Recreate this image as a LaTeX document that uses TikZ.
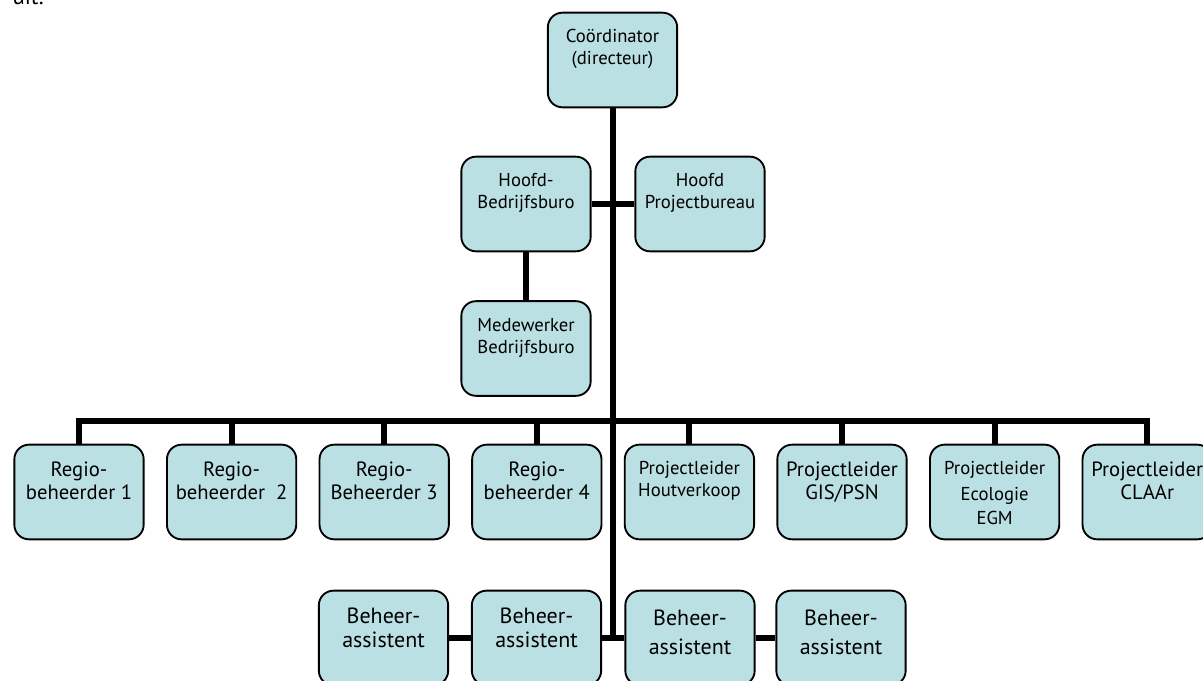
\documentclass[tikz,border=0pt]{standalone}
\usepackage{fontspec}
\setmainfont{PT Sans}
\usepackage{xcolor}
\usepackage{tikz}
\usetikzlibrary{positioning}
\definecolor{unitblue}{RGB}{187,224,227}
\tikzset{
every picture/.style={line width=0.8pt, x=0.75pt, y=-0.75pt},
%%%%%%%%%%  Node styles
unit/.style={rectangle, rounded corners=11pt, draw=black, fill=unitblue,
             line width=1.4pt, minimum width=97pt, minimum height=71pt,
             inner sep=0pt},
unit_text/.style={anchor=north, align=center, inner sep=0pt, yshift=-13pt,
                  font=\fontsize{14}{16.5}\selectfont},
big_text/.style={unit_text, font=\fontsize{15.5}{17.5}\selectfont},
%note that the beheer boxes have the largest text
huge_text/.style={unit_text, font=\fontsize{16.5}{18.5}\selectfont},
%%%% line styles
bar/.style={line width=4.5pt},
}

\begin{document}
\begin{tikzpicture}
\useasboundingbox (0,0) rectangle (1203,681);
\clip (0,0) rectangle (1203,681);
%%cut-off line of text above the chart
\node[anchor=base west, inner sep=0pt, font=\fontsize{17}{20}\selectfont] (uit) at (12,5) {uit.};
%%top of the chart
\node[unit, label={[unit_text]north:{Coördinator\\(directeur)}}] (coord) at (612.5,60) {};
\node[unit, label={[unit_text]north:{Hoofd-\\Bedrijfsburo}}] (hbed) at (526,204) {};
\node[unit, label={[unit_text]north:{Hoofd\\Projectbureau}}] (hproj) at (700,204) {};
\node[unit, label={[unit_text]north:{Medewerker\\Bedrijfsburo}}] (medw) at (526,348.5) {};
%%row of regio and project units
\node[unit, label={[big_text]north:{Regio-\\beheerder 1}}] (reg1) at (79,492) {};
\node[unit, label={[big_text]north:{Regio-\\beheerder~~2}}] (reg2) at (231.6,492) {};
\node[unit, label={[big_text]north:{Regio-\\Beheerder 3}}] (reg3) at (384.2,492) {};
\node[unit, label={[big_text]north:{Regio-\\beheerder 4}}] (reg4) at (536.8,492) {};
\node[unit, label={[unit_text]north:{Projectleider\\Houtverkoop}}] (reg5) at (689.4,492) {};
\node[unit, label={[big_text]north:{Projectleider\\GIS/PSN}}] (reg6) at (842,492) {};
\node[unit, label={[unit_text]north:{Projectleider\\[3pt]Ecologie\\[1pt]EGM}}] (reg7) at (994.6,492) {};
\node[unit, label={[big_text]north:{Projectleider\\CLAAr}}] (reg8) at (1147.2,492) {};
%%bottom row
\node[unit, label={[huge_text]north:{Beheer-\\assistent}}] (bh1) at (383.5,638) {};
\node[unit, label={[huge_text]north:{Beheer-\\assistent}}] (bh2) at (536.5,638) {};
\node[unit, label={[huge_text, yshift=-2pt]north:{Beheer-\\[3pt]assistent}}] (bh3) at (690,638) {};
\node[unit, label={[huge_text, yshift=-2pt]north:{Beheer-\\[3pt]assistent}}] (bh4) at (841,638) {};
%%connectors
\coordinate (trunk_end) at (612.5,641);
\draw[bar] (coord.south) -- (trunk_end);
\draw[bar] (hbed.east) -- (hproj.west);
\draw[bar] (hbed.south) -- (medw.north);
\draw[bar] (reg1.north) -- ++(0,-23) -| (reg8.north);
\foreach \i in {2,...,7}
  \draw[bar] (reg\i.north) -- ++(0,-23);
\draw[bar] (bh1.east) -- (bh2.west);
\draw[bar] (bh2.east) -- (bh3.west);
\draw[bar] (bh3.east) -- (bh4.west);
\end{tikzpicture}
\end{document}
